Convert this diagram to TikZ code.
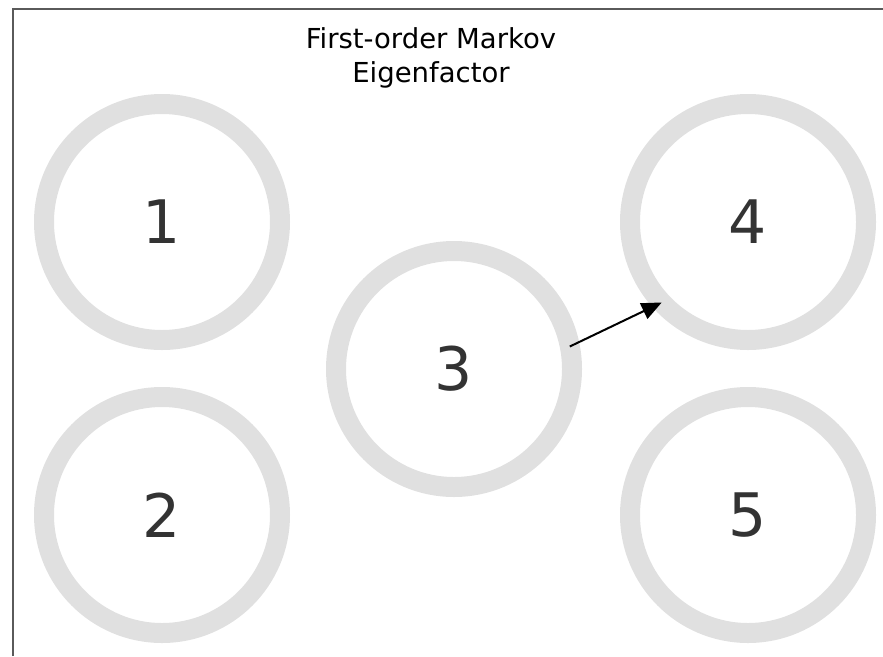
\documentclass[tikz,border=0pt]{standalone}
\usepackage{fontspec}
\setmainfont{DejaVu Sans}
\usetikzlibrary{arrows.meta}
\definecolor{ringgray}{RGB}{224, 224, 224}
\definecolor{framegray}{RGB}{90, 90, 90}
\definecolor{numgray}{RGB}{51, 51, 51}

\begin{document}
\begin{tikzpicture}[x=1pt, y=-1pt,
    state/.style={circle, draw=ringgray, line width=20pt, minimum size=236pt,
      inner sep=0pt, outer sep=0pt, text=numgray, font=\fontsize{60}{60}\selectfont}]
  \useasboundingbox (0,0) rectangle (883,656);
  % frame, cut off at the right and bottom
  \draw[framegray, line width=2pt] (13,656) -- (13,9) -- (883,9);

  \node[align=center, font=\fontsize{27.5}{34}\selectfont] (title) at (431,58) {First-order Markov\\Eigenfactor};

  \node[state] (n1) at (162,222) {1};
  \node[state] (n2) at (162,515) {2};
  \node[state] (n3) at (454,369) {3};
  \node[state] (n4) at (748,222) {4};
  \node[state] (n5) at (748,515) {5};

  \draw[-{Triangle[length=20pt, width=17pt]}, line width=2pt] (n3.11) -- (n4.223);
\end{tikzpicture}
\end{document}
